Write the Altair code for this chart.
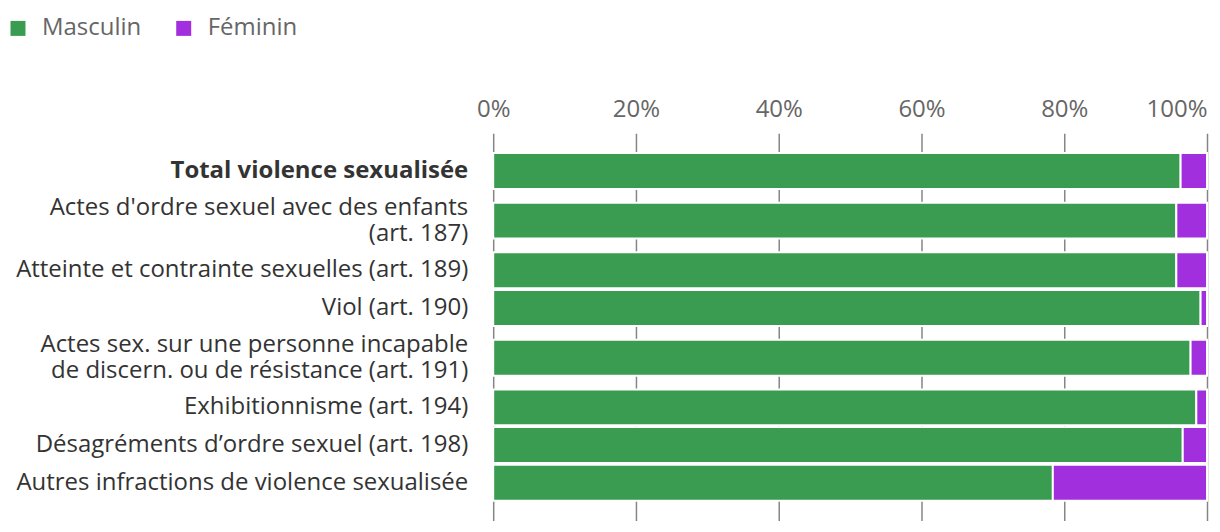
import altair as alt
import pandas as pd

categories = [
    "Total violence sexualisée",
    "Actes d'ordre sexuel avec des enfants\n(art. 187)",
    "Atteinte et contrainte sexuelles (art. 189)",
    "Viol (art. 190)",
    "Actes sex. sur une personne incapable\nde discern. ou de résistance (art. 191)",
    "Exhibitionnisme (art. 194)",
    "Désagréments d’ordre sexuel (art. 198)",
    "Autres infractions de violence sexualisée",
]
masculin = [96.3, 95.7, 95.7, 99.1, 97.7, 98.5, 96.6, 78.4]
feminin = [3.7, 4.3, 4.3, 0.9, 2.3, 1.5, 3.4, 21.6]
series = ["Masculin", "Féminin"]
colors = ["#399c50", "#a22fdd"]
ticks = [0, 20, 40, 60, 80, 100]

FS = 24
LH = 26

# row layout derived from the number of label lines
PAD = 19
pos = []
cur = PAD
for c in categories:
    n = c.count("\n") + 1
    h = 14 + 24 * n
    pos.append(cur + h / 2)
    cur += h
total = cur + PAD

rows = []
for i, c in enumerate(categories):
    n = c.count("\n") + 1
    kind = "bold" if i == 0 else ("multi" if n > 1 else "single")
    rows.append({"cat": c, "pos": pos[i], "serie": "Masculin", "o": 0, "v": masculin[i], "kind": kind})
    rows.append({"cat": c, "pos": pos[i], "serie": "Féminin", "o": 1, "v": feminin[i], "kind": kind})
df = pd.DataFrame(rows)
lab = df[df.serie == "Masculin"]

yscale = alt.Scale(domain=[0, total], reverse=True, nice=False, zero=False, padding=0)

bars = alt.Chart(df).mark_bar(orient="horizontal", size=36, stroke="white", strokeWidth=2).encode(
    x=alt.X("v:Q", stack="zero", scale=alt.Scale(domain=[0, 100], nice=False, padding=0),
            axis=alt.Axis(orient="top", values=ticks, labelExpr="datum.value + '%'", title=None,
                          domain=False, ticks=False, grid=True, gridColor="#858585", gridWidth=1.5,
                          labelFontSize=FS, labelColor="#666666", labelFont="Open Sans",
                          labelFlush=False,
                          labelAlign=alt.ExprRef(expr="datum.value == 100 ? 'right' : 'center'"),
                          labelPadding=12)),
    y=alt.Y("pos:Q", scale=yscale, axis=None),
    color=alt.Color("serie:N", scale=alt.Scale(domain=series, range=colors),
                    legend=alt.Legend(title=None, orient="none", legendX=-488, legendY=-117,
                                      direction="horizontal", symbolType="square", symbolSize=225,
                                      symbolStrokeWidth=0, labelFontSize=FS, labelColor="#666666",
                                      labelFont="Open Sans", labelOffset=12, columnPadding=30)),
    order=alt.Order("o:Q"),
)

base_text = alt.Chart(lab).encode(
    x=alt.value(-25),
    y=alt.Y("pos:Q", scale=yscale, axis=None),
    text="cat:N",
)
common = dict(align="right", baseline="middle", fontSize=FS, font="Open Sans", color="#333333",
              lineBreak="\n", lineHeight=LH)
txt_single = base_text.transform_filter("datum.kind == 'single'").mark_text(**common)
txt_multi = base_text.transform_filter("datum.kind == 'multi'").mark_text(dy=-LH / 2, **common)
txt_bold = base_text.transform_filter("datum.kind == 'bold'").mark_text(fontWeight="bold", **common)

chart = alt.layer(bars, txt_single, txt_multi, txt_bold).properties(
    width=715, height=388,
    autosize=alt.AutoSizeParams(type="none"),
    padding={"left": 486, "top": 125, "right": 5, "bottom": 5},
).configure_view(stroke=None)

chart.save("out.html", embed_options={"renderer": "svg", "actions": False})
